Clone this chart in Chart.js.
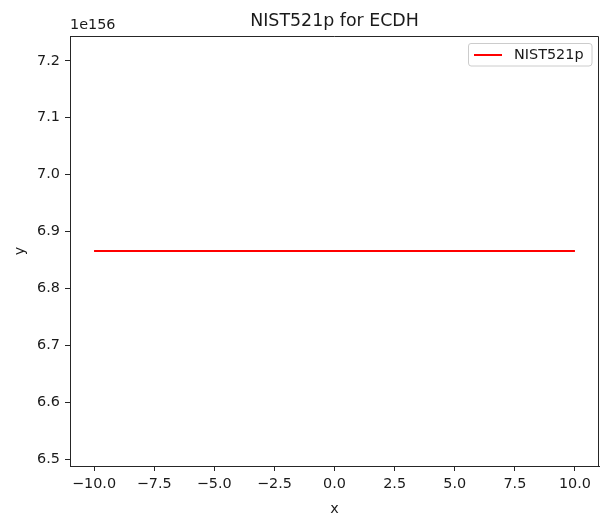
<!DOCTYPE html>
<html>
<head>
<meta charset="utf-8">
<script src="https://cdn.jsdelivr.net/npm/chart.js@4/dist/chart.umd.min.js"></script>
<style>
  html, body { margin: 0; padding: 0; background: #ffffff; }
  #wrap { width: 603px; height: 514px; }
</style>
</head>
<body>
<div id="wrap"><canvas id="chart" width="603" height="514"></canvas></div>
<script>
// Series: a constant curve y(x) for the NIST521p curve
const seriesName = 'NIST521p';
const xValues = [-10, 10];
const yValues = [6.866e156, 6.866e156];

// Axis ticks; the y axis shows mantissas with a common 1e156 multiplier
const yExponent = 156;
const xTicks = [-10, -7.5, -5, -2.5, 0, 2.5, 5, 7.5, 10];
const yTicks = [6.5, 6.6, 6.7, 6.8, 6.9, 7.0, 7.1, 7.2];
const xLimits = [-11, 11];
const yLimits = [6.4884, 7.2436];

const scaleFactor = Math.pow(10, yExponent);
const points = xValues.map((x, i) => ({ x: x, y: yValues[i] / scaleFactor }));

const FONT = 'DejaVu Sans';
const TEXT = '#1a1a1a';
const AXIS = '#262626';

function fmt(v) {
  return v.toFixed(1).replace('-', '\u2212');
}

// Frame, titles, offset text and legend drawn in matplotlib style
const decorations = {
  id: 'decorations',
  afterDraw(chart) {
    const ctx = chart.ctx;
    const a = chart.chartArea;
    ctx.save();
    // top and right spines
    ctx.strokeStyle = AXIS;
    ctx.lineWidth = 1;
    ctx.beginPath();
    ctx.moveTo(a.left, a.top + 0.5);
    ctx.lineTo(a.right - 0.5, a.top + 0.5);
    ctx.lineTo(a.right - 0.5, a.bottom);
    ctx.stroke();

    ctx.fillStyle = TEXT;
    // title
    ctx.font = '17.4px "' + FONT + '"';
    ctx.textAlign = 'center';
    ctx.textBaseline = 'alphabetic';
    ctx.fillText('NIST521p for ECDH', (a.left + a.right) / 2, 26);

    // offset text
    ctx.font = '14.4px "' + FONT + '"';
    ctx.textAlign = 'left';
    ctx.fillText('1e' + yExponent, a.left, 29);

    // axis titles
    ctx.textAlign = 'center';
    ctx.fillText('x', (a.left + a.right) / 2, 513);
    ctx.save();
    ctx.translate(24, (a.top + a.bottom) / 2);
    ctx.rotate(-Math.PI / 2);
    ctx.fillText('y', 0, 0);
    ctx.restore();

    // legend box
    const bx = 468, by = 43, bw = 124, bh = 23, r = 3;
    ctx.fillStyle = 'rgba(255,255,255,0.8)';
    ctx.strokeStyle = '#cccccc';
    ctx.lineWidth = 1;
    ctx.beginPath();
    ctx.moveTo(bx + r, by + 0.5);
    ctx.lineTo(bx + bw - r, by + 0.5);
    ctx.quadraticCurveTo(bx + bw, by + 0.5, bx + bw, by + r);
    ctx.lineTo(bx + bw, by + bh - r);
    ctx.quadraticCurveTo(bx + bw, by + bh, bx + bw - r, by + bh);
    ctx.lineTo(bx + r, by + bh);
    ctx.quadraticCurveTo(bx + 0.5, by + bh, bx + 0.5, by + bh - r);
    ctx.lineTo(bx + 0.5, by + r);
    ctx.quadraticCurveTo(bx + 0.5, by + 0.5, bx + r, by + 0.5);
    ctx.closePath();
    ctx.fill();
    ctx.stroke();

    const ds = chart.data.datasets[0];
    ctx.strokeStyle = ds.borderColor;
    ctx.lineWidth = ds.borderWidth;
    ctx.beginPath();
    ctx.moveTo(474, by + bh / 2 + 0.5);
    ctx.lineTo(502, by + bh / 2 + 0.5);
    ctx.stroke();

    ctx.fillStyle = TEXT;
    ctx.font = '14.4px "' + FONT + '"';
    ctx.textAlign = 'left';
    ctx.textBaseline = 'middle';
    ctx.fillText(ds.label, 514, by + bh / 2 + 1);
    ctx.restore();
  }
};

new Chart(document.getElementById('chart'), {
  type: 'line',
  data: {
    datasets: [{
      label: seriesName,
      data: points,
      borderColor: '#ff0000',
      borderWidth: 2,
      pointRadius: 0,
      fill: false,
      tension: 0
    }]
  },
  options: {
    responsive: false,
    animation: false,
    devicePixelRatio: 1,
    layout: { padding: { top: 36, right: 4, left: 0, bottom: 0 } },
    plugins: {
      legend: { display: false },
      title: { display: false },
      tooltip: { enabled: false }
    },
    scales: {
      x: {
        type: 'linear',
        min: xLimits[0],
        max: xLimits[1],
        afterFit(s) { s.height = 48; },
        afterBuildTicks(s) { s.ticks = xTicks.map(v => ({ value: v })); },
        grid: { drawOnChartArea: false, drawTicks: true, tickLength: 5, color: AXIS, lineWidth: 1 },
        border: { display: true, color: AXIS, width: 1 },
        ticks: {
          autoSkip: false, maxRotation: 0, padding: 5, color: TEXT,
          font: { family: FONT, size: 14.4 },
          callback: v => fmt(v)
        }
      },
      y: {
        type: 'linear',
        min: yLimits[0],
        max: yLimits[1],
        afterFit(s) { s.width = 70; },
        afterBuildTicks(s) { s.ticks = yTicks.map(v => ({ value: v })); },
        grid: { drawOnChartArea: false, drawTicks: true, tickLength: 5, color: AXIS, lineWidth: 1 },
        border: { display: true, color: AXIS, width: 1 },
        ticks: {
          autoSkip: false, padding: 5, color: TEXT,
          font: { family: FONT, size: 14.4 },
          callback: v => fmt(v)
        }
      }
    }
  },
  plugins: [decorations]
});
</script>
</body>
</html>
